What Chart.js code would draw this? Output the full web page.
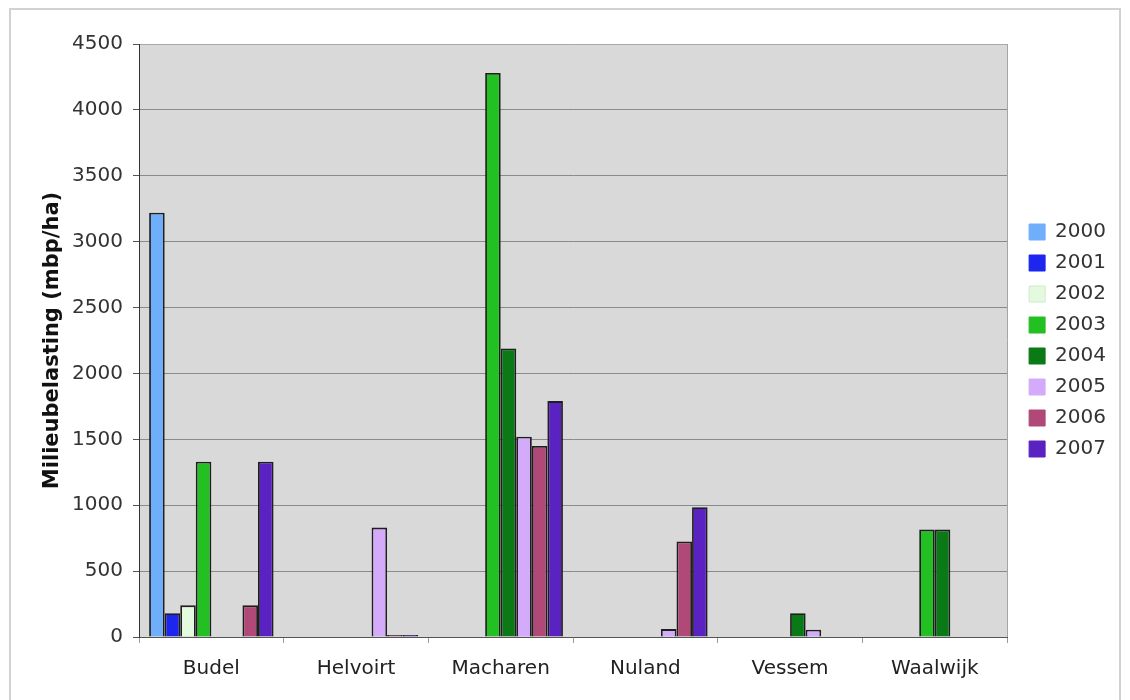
<!DOCTYPE html>
<html>
<head>
<meta charset="utf-8">
<script src="https://cdn.jsdelivr.net/npm/chart.js@4/dist/chart.umd.min.js"></script>
<style>
  html, body { margin: 0; padding: 0; background: #ffffff; }
  #wrap { position: relative; width: 1130px; height: 700px; }
</style>
</head>
<body>
<div id="wrap"><canvas id="chart" width="1130" height="700"></canvas></div>
<script>
// Gemeenten (categorieën)
const categories = ['Budel', 'Helvoirt', 'Macharen', 'Nuland', 'Vessem', 'Waalwijk'];

// Jaren (reeksen)
const years = ['2000', '2001', '2002', '2003', '2004', '2005', '2006', '2007'];

// Milieubelasting per jaar, per gemeente (mbp/ha); null = geen waarde
const y2000 = [3220, null, null, null, null, null];
const y2001 = [180, null, null, null, null, null];
const y2002 = [240, null, null, null, null, null];
const y2003 = [1330, null, 4280, null, null, 815];
const y2004 = [null, null, 2190, null, 180, 815];
const y2005 = [null, 830, 1520, 60, 55, null];
const y2006 = [240, 15, 1450, 725, null, null];
const y2007 = [1330, 15, 1790, 985, null, null];

// As-instellingen
const yMin = 0;
const yMax = 4500;
const yStep = 500;

const seriesValues = [y2000, y2001, y2002, y2003, y2004, y2005, y2006, y2007];
const seriesColors = ['#6eaefa', '#1c26ee', '#e4fade', '#22c022', '#0a7a16', '#d4abfa', '#b04878', '#5a22c0'];

const FONT = "'DejaVu Sans', Verdana, sans-serif";

// Achtergrond van het plotvlak, kader en buitenrand
const frame = {
  id: 'frame',
  beforeDraw(chart) {
    const { ctx, chartArea: a } = chart;
    ctx.save();
    ctx.fillStyle = '#d9d9d9';
    ctx.fillRect(a.left, a.top, a.right - a.left, a.bottom - a.top);
    ctx.strokeStyle = '#d2d2d2';
    ctx.lineWidth = 2;
    ctx.beginPath();
    ctx.moveTo(10, 702);
    ctx.lineTo(10, 9);
    ctx.lineTo(1120, 9);
    ctx.lineTo(1120, 702);
    ctx.stroke();
    ctx.restore();
  },
  afterDatasetsDraw(chart) {
    const { ctx, chartArea: a } = chart;
    ctx.save();
    ctx.strokeStyle = '#a4a4a4';
    ctx.lineWidth = 1;
    ctx.beginPath();
    ctx.moveTo(Math.round(a.right) + 0.5, a.top);
    ctx.lineTo(Math.round(a.right) + 0.5, a.bottom);
    ctx.stroke();
    ctx.restore();
  }
};

new Chart(document.getElementById('chart'), {
  type: 'bar',
  data: {
    labels: categories,
    datasets: years.map((yr, i) => ({
      label: yr,
      data: seriesValues[i],
      backgroundColor: seriesColors[i],
      borderColor: '#1e1e1e',
      borderWidth: 1.8,
      categoryPercentage: 0.86,
      barPercentage: 1.0
    }))
  },
  options: {
    responsive: false,
    animation: false,
    devicePixelRatio: 1,
    layout: { padding: { left: 39, top: 44, right: 14, bottom: 0 } },
    plugins: {
      tooltip: { enabled: false },
      legend: {
        position: 'right',
        fullSize: false,
        align: 'center',
        labels: {
          font: { family: FONT, size: 20 },
          color: '#333333',
          boxWidth: 16,
          boxHeight: 16,
          padding: 11,
          generateLabels(chart) {
            return chart.data.datasets.map((ds, i) => ({
              text: ds.label,
              fillStyle: ds.backgroundColor,
              strokeStyle: i === 2 ? '#cfe8cc' : ds.backgroundColor,
              lineWidth: 1,
              hidden: false,
              datasetIndex: i,
              fontColor: '#333333'
            }));
          }
        }
      }
    },
    scales: {
      x: {
        grid: {
          offset: true,
          drawOnChartArea: false,
          drawTicks: true,
          tickLength: 6,
          tickColor: '#9a9a9a'
        },
        border: { display: true, color: '#555555', width: 1 },
        ticks: {
          font: { family: FONT, size: 20 },
          color: '#222222',
          padding: 14,
          maxRotation: 0
        },
        afterFit(s) { s.height = 63; }
      },
      y: {
        min: yMin,
        max: yMax,
        grid: {
          color: (c) => (c.tick && c.tick.value === yMax ? '#a8a8a8' : '#8a8a8a'),
          tickColor: '#555555',
          tickLength: 6,
          lineWidth: 1
        },
        border: { display: true, color: '#333333', width: 1 },
        ticks: {
          stepSize: yStep,
          font: { family: FONT, size: 20 },
          color: '#333333',
          padding: 10,
          callback: (v) => String(v)
        },
        title: {
          display: true,
          text: 'Milieubelasting (mbp/ha)',
          font: { family: FONT, size: 21, weight: 'bold' },
          color: '#111111',
          padding: { top: 1, bottom: 7 }
        },
        afterFit(s) { s.width = 100; }
      },
      spacer: {
        type: 'linear',
        position: 'right',
        display: true,
        grid: { display: false },
        border: { display: false },
        ticks: { display: false },
        afterFit(s) { s.width = 11; }
      }
    }
  },
  plugins: [frame]
});
</script>
</body>
</html>
